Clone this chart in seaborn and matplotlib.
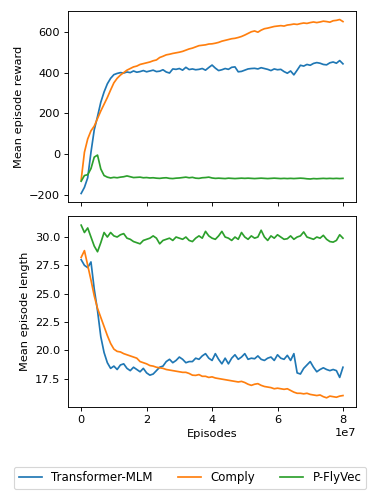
#!/usr/bin/env python3

import numpy as np
import pandas as pd
import matplotlib
matplotlib.use('Agg')
import matplotlib.pyplot as plt
import seaborn as sns

#-----------
# DATA
#-----------
# one sample every 1e6 episodes, 0 .. 8e7
episodes = np.arange(0, 81) * 1e6
methods = ['Transformer-MLM', 'Comply', 'P-FlyVec']

reward_tmlm = [
  -192, -162, -115, 10, 120, 185, 255, 305, 345, 372,
  390, 396, 400, 398, 403, 400, 408, 402, 405, 410,
  404, 408, 412, 405, 407, 414, 403, 398, 418, 416,
  420, 412, 426, 415, 418, 414, 416, 420, 412, 425,
  437, 422, 410, 414, 420, 416, 426, 428, 404, 406,
  412, 418, 420, 421, 418, 424, 420, 416, 410, 418,
  414, 416, 405, 397, 408, 389, 412, 436, 432, 440,
  436, 445, 449, 446, 440, 438, 448, 452, 446, 459,
  443]
reward_comply = [
  -126, 10, 75, 115, 138, 175, 212, 245, 278, 315,
  350, 372, 388, 400, 412, 420, 428, 432, 440, 444,
  448, 452, 458, 462, 474, 480, 487, 490, 494, 497,
  500, 504, 510, 516, 520, 526, 532, 534, 536, 540,
  541, 544, 548, 554, 558, 562, 566, 568, 572, 577,
  584, 592, 600, 604, 598, 608, 615, 618, 622, 626,
  628, 630, 628, 633, 635, 638, 636, 640, 643, 641,
  645, 648, 645, 648, 652, 650, 647, 654, 656, 660,
  650]
reward_pfly = [
  -132, -104, -100, -70, -14, -4, -72, -104, -112, -116,
  -113, -115, -112, -110, -106, -110, -114, -113, -112, -115,
  -114, -116, -115, -117, -118, -116, -115, -118, -119, -117,
  -116, -114, -112, -115, -113, -117, -118, -115, -114, -112,
  -116, -118, -117, -118, -119, -117, -118, -119, -118, -117,
  -118, -117, -118, -119, -118, -117, -118, -119, -118, -117,
  -118, -119, -118, -119, -118, -119, -118, -117, -118, -120,
  -121, -119, -120, -119, -118, -119, -118, -119, -118, -119,
  -118]

length_tmlm = [
  28.0, 27.5, 27.3, 27.8, 25.4, 23.5, 21.2, 19.8, 18.9, 18.4,
  18.6, 18.3, 18.7, 18.8, 18.4, 18.2, 18.5, 18.3, 18.1, 18.4,
  18.0, 17.8, 17.9, 18.2, 18.5, 18.6, 19.0, 19.2, 18.9, 19.1,
  19.4, 19.2, 18.9, 19.0, 19.0, 19.3, 19.2, 19.5, 19.7, 19.3,
  19.1, 19.7, 19.2, 18.8, 19.3, 18.8, 19.3, 19.6, 19.2, 19.4,
  19.7, 19.2, 19.3, 19.25, 19.5, 19.2, 19.1, 19.3, 19.4, 19.1,
  19.6, 19.3, 19.2, 19.55, 19.1, 19.7, 18.0, 17.9, 18.4, 18.7,
  19.0, 18.5, 18.1, 18.3, 18.45, 18.3, 18.2, 18.3, 18.2, 17.6,
  18.5]
length_comply = [
  28.2, 28.8, 27.5, 26.2, 24.8, 23.7, 22.9, 22.1, 21.3, 20.6,
  20.1, 19.9, 19.85, 19.7, 19.6, 19.5, 19.4, 19.3, 19.0, 18.9,
  18.8, 18.65, 18.6, 18.5, 18.45, 18.4, 18.3, 18.25, 18.2, 18.15,
  18.1, 18.05, 18.05, 17.95, 17.8, 17.78, 17.85, 17.7, 17.7, 17.6,
  17.65, 17.55, 17.5, 17.45, 17.4, 17.35, 17.3, 17.25, 17.2, 17.25,
  17.15, 17.0, 16.9, 17.0, 17.05, 16.9, 16.8, 16.75, 16.7, 16.6,
  16.65, 16.6, 16.55, 16.6, 16.45, 16.3, 16.2, 16.2, 16.15, 16.2,
  16.1, 16.05, 16.0, 16.05, 15.9, 15.8, 15.95, 15.9, 15.85, 15.95,
  16.0]
length_pfly = [
  31.05, 30.4, 30.8, 30.0, 29.2, 28.7, 29.5, 30.4, 30.0, 30.4,
  30.1, 30.0, 30.2, 30.3, 29.9, 29.8, 29.6, 29.5, 29.4, 29.7,
  29.8, 29.9, 30.1, 29.9, 29.4, 29.7, 29.8, 29.9, 29.7, 30.0,
  29.9, 29.8, 30.0, 29.7, 29.6, 29.9, 30.1, 29.9, 30.5, 30.1,
  29.9, 29.8, 30.1, 30.5, 30.0, 29.9, 29.7, 30.0, 29.8, 30.4,
  30.0, 29.8, 30.1, 29.9, 30.0, 30.6, 30.0, 29.7, 30.1, 29.9,
  30.2, 30.0, 29.8, 29.85, 30.1, 29.8, 30.0, 30.1, 30.45, 30.0,
  29.9, 29.8, 30.0, 29.9, 30.15, 29.8, 29.6, 29.55, 29.7, 30.2,
  29.9]

#-----------
# HELPERS
#-----------
def _long_df(series):
  frames = []
  for name, values in zip(methods, series):
    frames.append(pd.DataFrame({'episodes': episodes, 'value': values, 'method': name}))
  return pd.concat(frames, ignore_index=True)

#-----------
# PLOT
#-----------
palette = ['#1f77b4', '#ff7f0e', '#2ca02c']
DPI = 82

reward_df = _long_df([reward_tmlm, reward_comply, reward_pfly])
length_df = _long_df([length_tmlm, length_comply, length_pfly])

fig, (ax_top, ax_bot) = plt.subplots(2, 1, sharex=True, figsize=(374 / DPI, 498 / DPI), dpi=DPI)
fig.subplots_adjust(left=0.182, right=0.952, top=0.978, bottom=0.183, hspace=0.074)

sns.lineplot(data=reward_df, x='episodes', y='value', hue='method', palette=palette, ax=ax_top)
sns.lineplot(data=length_df, x='episodes', y='value', hue='method', palette=palette, ax=ax_bot, legend=False)

ax_top.set_ylabel('Mean episode reward')
ax_top.set_xlabel('')
ax_top.set_yticks([-200, 0, 200, 400, 600])
ax_top.set_ylim(-233, 702)

ax_bot.set_ylabel('Mean episode length')
ax_bot.set_xlabel('Episodes')
ax_bot.set_yticks([17.5, 20.0, 22.5, 25.0, 27.5, 30.0])
ax_bot.set_ylim(15.0, 31.86)
ax_bot.set_xlim(-4e6, 8.4e7)

# move the legend to the bottom of the figure
handles, labels = ax_top.get_legend_handles_labels()
ax_top.get_legend().remove()
fig.legend(handles, labels, loc='lower center', ncol=3, bbox_to_anchor=(0.508, 0.006),
           fontsize=10.3, columnspacing=2.1)

fig.savefig('out.png', dpi=DPI)
